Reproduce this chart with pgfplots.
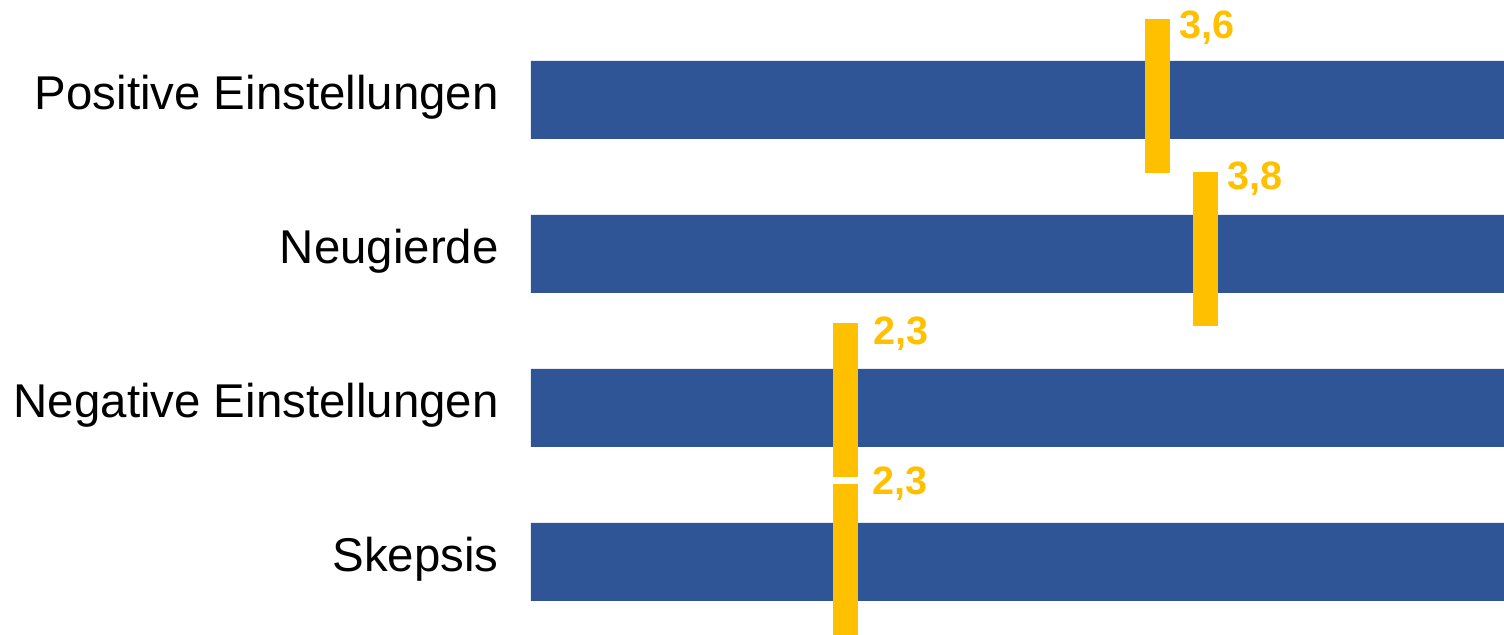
\documentclass[border=0pt]{standalone}
\usepackage{pgfplots}
\pgfplotsset{compat=1.18}
\usepackage{fontspec}
\setmainfont{Liberation Sans}
\definecolor{barblue}{RGB}{47,85,151}
\definecolor{markgold}{RGB}{255,192,0}
\begin{document}
\begin{tikzpicture}
\begin{axis}[
  scale only axis, width=486.5pt, height=317.5pt,
  xmin=0.9896, xmax=5.044, ymin=-0.474, ymax=3.649,
  axis line style={draw=none}, xtick=\empty,
  ytick={0,1,2,3},
  yticklabels={Skepsis, Negative Einstellungen, Neugierde, Positive Einstellungen},
  major tick length=0pt,
  yticklabel style={font=\fontsize{23.7}{28}\selectfont, anchor=base east, inner sep=0pt, xshift=-16pt, yshift=-5pt},
]
\addplot[xbar, bar width=39pt, fill=barblue, draw=none] coordinates {(5.2,0) (5.2,1) (5.2,2) (5.2,3)};
% markers (mean values)
\addplot[markgold, line width=12.5pt, line cap=butt] coordinates {(3.6,2.526) (3.6,3.526)};
\addplot[markgold, line width=12.5pt, line cap=butt] coordinates {(3.8,1.532) (3.8,2.532)};
\addplot[markgold, line width=12.5pt, line cap=butt] coordinates {(2.3,0.552) (2.3,1.552)};
\addplot[markgold, line width=12.5pt, line cap=butt] coordinates {(2.3,-0.494) (2.3,0.506)};
\tikzset{vlab/.style={anchor=base west, inner sep=0pt, text=markgold, font=\fontsize{19.8}{23}\selectfont\bfseries}}
\node[vlab] at (axis cs:3.69,3.396) {3,6};
\node[vlab] at (axis cs:3.89,2.416) {3,8};
\node[vlab] at (axis cs:2.414,1.409) {2,3};
\node[vlab] at (axis cs:2.41,0.435) {2,3};
\end{axis}
\pgfresetboundingbox
\path[use as bounding box] ([xshift=-265.5pt]current axis.south west) rectangle (current axis.north east);
\end{tikzpicture}
\end{document}
